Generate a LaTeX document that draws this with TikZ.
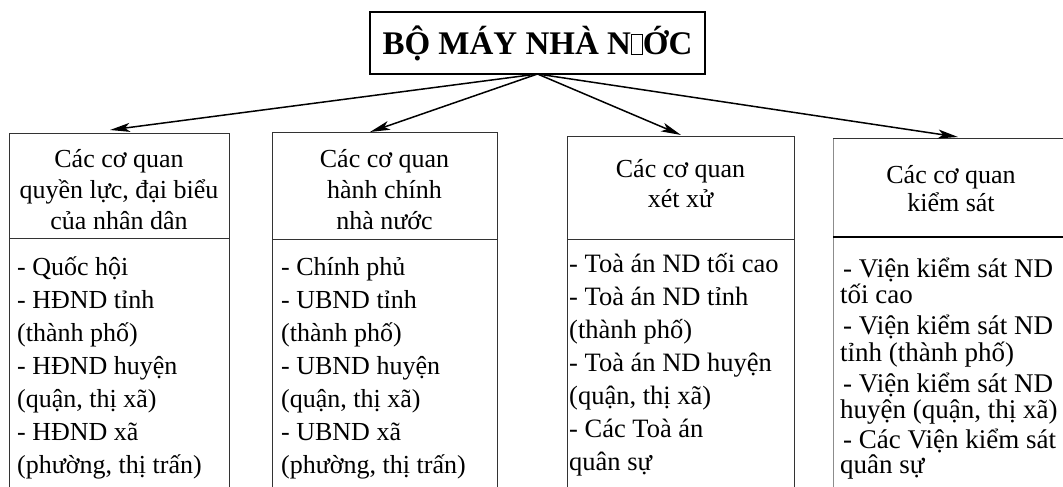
\documentclass[tikz,border=0pt]{standalone}
\usepackage{fontspec}
\setmainfont{Liberation Serif}
\usetikzlibrary{arrows.meta}
\tikzset{
  boxline/.style={draw=black!80, line width=0.9pt},
  arr/.style={line width=1.5pt, -{Stealth[length=20pt,width=9pt,inset=5pt]}},
  head/.style={anchor=base, inner sep=0pt, font=\fontsize{26}{31}\selectfont},
  item/.style={anchor=base west, inner sep=0pt, font=\fontsize{26}{31}\selectfont},
  itemc/.style={item, font=\fontsize{26.5}{31}\selectfont},
  itemd/.style={item, font=\fontsize{27}{31}\selectfont},
  titlebox/.style={draw=black, line width=1.4pt, outer sep=0pt, inner sep=0pt,
    minimum width=335pt, minimum height=62pt, font=\bfseries\fontsize{33}{38}\selectfont},
}
\newcommand{\missingglyph}{{\fboxsep=0pt\fboxrule=0.8pt\framebox[12pt]{\rule{0pt}{19pt}}}}
\begin{document}
\begin{tikzpicture}[x=1pt,y=-1pt]
\useasboundingbox (0,0) rectangle (1063,487);
% title
\node[titlebox] (title) at (537.5,43) {BỘ MÁY NHÀ N\missingglyph ỚC};
% boxes (open at the bottom)
\draw[boxline] (9,487) |- (229,133) -- (229,487);
\draw[boxline] (9,238) -- (229,238);
\draw[boxline] (272,487) |- (497,132) -- (497,487);
\draw[boxline] (272,239) -- (497,239);
\draw[boxline] (567,487) |- (794,136) -- (794,487);
\draw[boxline] (567,239) -- (794,239);
\draw[boxline, draw=black!45] (833,487) -- (833,138);
\draw[boxline] (833,138) -- (1063,138);
\draw[draw=black, line width=1.8pt] (833,237) -- (1063,237);
% arrow targets
\coordinate (t1) at (110,130);
\coordinate (t2) at (370,132);
\coordinate (t3) at (681,135);
\coordinate (t4) at (958,137);
\foreach \t in {t1,t2,t3,t4} \draw[arr] (title.south) -- (\t);
% headers
\node[head] (h1a) at (119,167) {Các cơ quan};
\node[head] (h1b) at (119,198) {quyền lực, đại biểu};
\node[head] (h1c) at (119,229) {của nhân dân};
\node[head] (h2a) at (384.5,167) {Các cơ quan};
\node[head] (h2b) at (384.5,198) {hành chính};
\node[head] (h2c) at (384.5,229) {nhà nước};
\node[head] (h3a) at (680.5,177) {Các cơ quan};
\node[head] (h3b) at (680.5,207) {xét xử};
\node[head] (h4a) at (951,183) {Các cơ quan};
\node[head] (h4b) at (951,211) {kiểm sát};
% lists
\foreach \s [count=\i from 0] in {{- Quốc hội},{- HĐND tỉnh},{(thành phố)},{- HĐND huyện},{(quận, thị xã)},{- HĐND xã},{(phường, thị trấn)}}
  \node[item] (a\i) at (17,{275+33*\i}) {\s};
\foreach \s [count=\i from 0] in {{- Chính phủ},{- UBND tỉnh},{(thành phố)},{- UBND huyện},{(quận, thị xã)},{- UBND xã},{(phường, thị trấn)}}
  \node[item] (b\i) at (281,{275+33*\i}) {\s};
\foreach \s [count=\i from 0] in {{- Toà án ND tối cao},{- Toà án ND tỉnh},{(thành phố)},{- Toà án ND huyện},{(quận, thị xã)},{- Các Toà án},{quân sự}}
  \node[itemc] (c\i) at (569,{272+33*\i}) {\s};
\foreach \s/\xx/\yy [count=\i from 0] in {{- Viện kiểm sát ND}/843/277,{tối cao}/840/303,{- Viện kiểm sát ND}/843/334,{tỉnh (thành phố)}/840/361,{- Viện kiểm sát ND}/843/392,{huyện (quận, thị xã)}/840/418,{- Các Viện kiểm sát}/843/448,{quân sự}/840/473}
  \node[itemd] (d\i) at (\xx,\yy) {\s};
\end{tikzpicture}
\end{document}
